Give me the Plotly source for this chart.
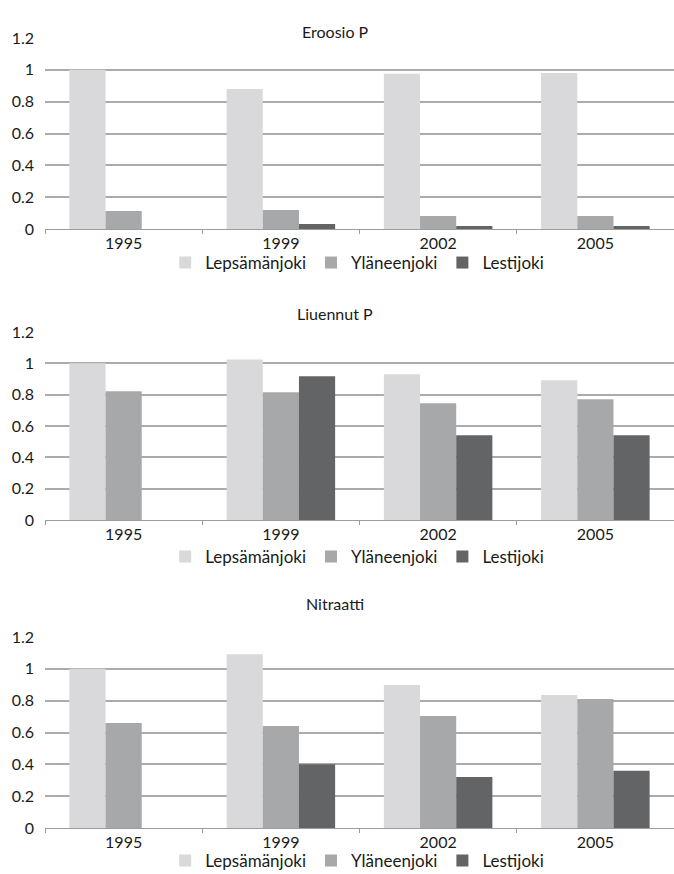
import plotly.graph_objects as go
from plotly.subplots import make_subplots

YEARS = ['1995', '1999', '2002', '2005']
RIVERS = ['Lepsämänjoki', 'Yläneenjoki', 'Lestijoki']
COLORS = ['#d9d9db', '#a7a8aa', '#636466']

# values per panel, one list per river (None = no bar)
EROOSIO_LEPS = [1.0, 0.88, 0.975, 0.98]
EROOSIO_YLA = [0.113, 0.12, 0.082, 0.082]
EROOSIO_LEST = [None, 0.031, 0.019, 0.019]

LIUENNUT_LEPS = [1.0, 1.025, 0.93, 0.892]
LIUENNUT_YLA = [0.822, 0.815, 0.745, 0.771]
LIUENNUT_LEST = [None, 0.917, 0.541, 0.541]

NITRAATTI_LEPS = [1.0, 1.092, 0.898, 0.835]
NITRAATTI_YLA = [0.66, 0.641, 0.704, 0.81]
NITRAATTI_LEST = [None, 0.40, 0.32, 0.359]

PANELS = [
    ('Eroosio P', [EROOSIO_LEPS, EROOSIO_YLA, EROOSIO_LEST]),
    ('Liuennut P', [LIUENNUT_LEPS, LIUENNUT_YLA, LIUENNUT_LEST]),
    ('Nitraatti', [NITRAATTI_LEPS, NITRAATTI_YLA, NITRAATTI_LEST]),
]

W, H = 674, 874
FONT = 'Lato, "Open Sans", sans-serif'

# pixel layout of each panel: (top of 1.2, zero line, title y, legend y)
PANEL_PX = [(38, 229, 20, 263), (332, 520, 313, 557), (637, 828, 615, 861)]
LEGEND_NAMES = ['legend', 'legend2', 'legend3']

fig = make_subplots(rows=3, cols=1)

for r, (title, series) in enumerate(PANELS, start=1):
    for name, vals, col in zip(RIVERS, series, COLORS):
        fig.add_trace(go.Bar(
            x=YEARS, y=vals, name=name,
            marker=dict(color=col, line=dict(width=0)),
            legend=LEGEND_NAMES[r - 1],
        ), row=r, col=1)

layout_extra = {}
for i, (top, zero, ty, ly) in enumerate(PANEL_PX):
    sfx = '' if i == 0 else str(i + 1)
    layout_extra[f'xaxis{sfx}'] = dict(
        domain=[45 / W, 1.0],
        showline=True, linecolor='#9c9c9c', linewidth=1,
        ticks='outside', tickson='boundaries', ticklen=4, tickcolor='#9c9c9c',
        showgrid=False, tickfont=dict(size=16, color='#1a1a1a'),
    )
    layout_extra[f'yaxis{sfx}'] = dict(
        domain=[1 - zero / H, 1 - top / H],
        range=[0, 1.2], tickvals=[0, 0.2, 0.4, 0.6, 0.8, 1, 1.2],
        ticktext=['0', '0.2', '0.4', '0.6', '0.8', '1', '1.2'],
        showgrid=True, gridcolor='#ababab', gridwidth=1.5,
        zeroline=False, showline=False, ticks='', ticklabelstandoff=10,
        tickfont=dict(size=16, color='#1a1a1a'),
    )
    layout_extra[LEGEND_NAMES[i]] = dict(
        orientation='h', x=0.53, xanchor='center',
        y=1 - ly / H, yanchor='middle',
        font=dict(size=17, color='#1a1a1a'), bgcolor='rgba(0,0,0,0)',
        itemwidth=30, tracegroupgap=0,
    )
    fig.add_annotation(
        text=PANELS[i][0], x=335 / W, y=1 - ty / H,
        xref='paper', yref='paper', showarrow=False,
        font=dict(size=16, color='#1a1a1a'),
    )

fig.update_layout(
    **layout_extra,
    width=W, height=H,
    margin=dict(l=0, r=0, t=0, b=0, autoexpand=False),
    paper_bgcolor='white', plot_bgcolor='white',
    font=dict(family=FONT, color='#1a1a1a'),
    barmode='group', bargap=0.31, bargroupgap=0,
    showlegend=True,
)

# drop the page's default body margin so the figure sits at the window corner
fig.write_html('out.html', config={'displayModeBar': False},
               post_script="document.body.style.margin='0';")
